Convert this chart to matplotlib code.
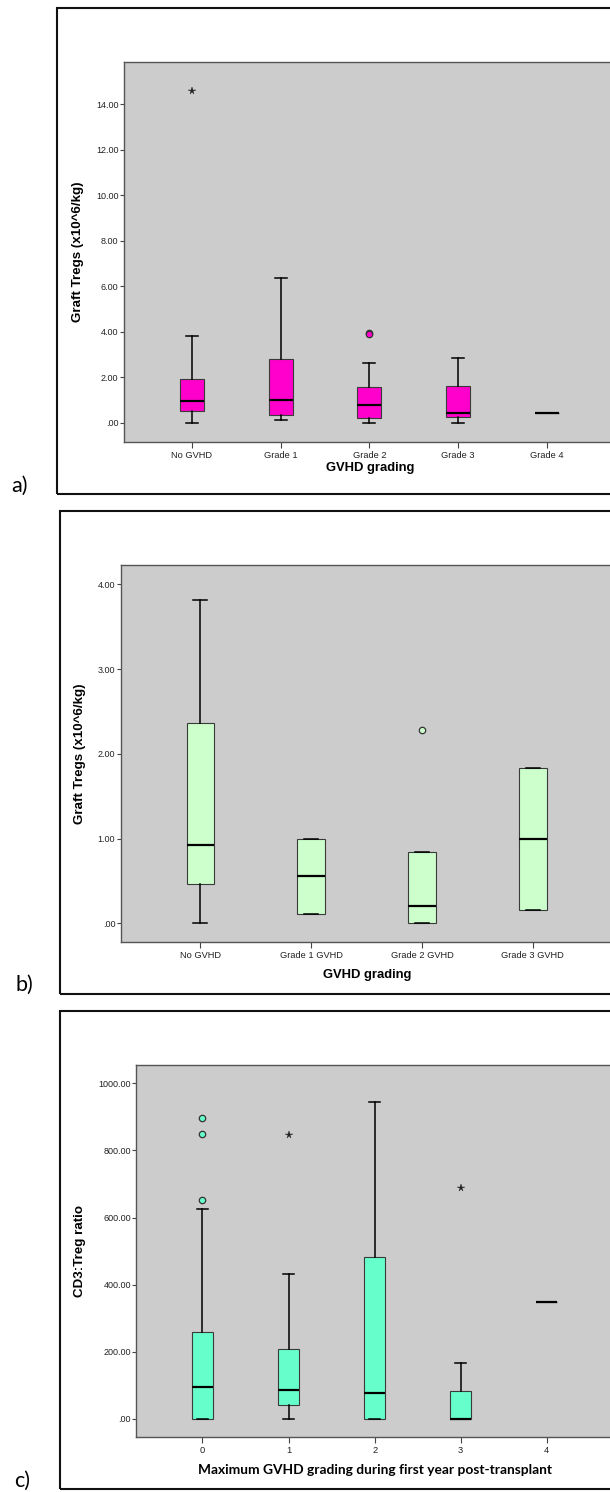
import matplotlib
matplotlib.use("Agg")
import matplotlib.pyplot as plt
from matplotlib.patches import Rectangle

# ---------------- data ----------------
# a) Graft Tregs by GVHD grade
a_labels = ["No GVHD", "Grade 1", "Grade 2", "Grade 3", "Grade 4"]
a_whislo = [0.00, 0.12, 0.00, 0.00, 0.41]
a_q1 = [0.50, 0.34, 0.20, 0.26, 0.41]
a_med = [0.94, 1.00, 0.79, 0.41, 0.41]
a_q3 = [1.93, 2.81, 1.58, 1.61, 0.41]
a_whishi = [3.81, 6.35, 2.61, 2.84, 0.41]
a_outliers = [[], [], [3.96, 3.88], [], []]
a_extremes = [[14.56], [], [], [], []]
a_ticks = [0, 2, 4, 6, 8, 10, 12, 14]
a_ticklabels = [".00", "2.00", "4.00", "6.00", "8.00", "10.00", "12.00", "14.00"]

# b) Graft Tregs by GVHD grade (second cohort)
b_labels = ["No GVHD", "Grade 1 GVHD", "Grade 2 GVHD", "Grade 3 GVHD"]
b_whislo = [0.00, 0.114, 0.00, 0.157]
b_q1 = [0.46, 0.114, 0.00, 0.157]
b_med = [0.924, 0.558, 0.204, 0.995]
b_q3 = [2.368, 0.999, 0.838, 1.837]
b_whishi = [3.815, 0.999, 0.838, 1.837]
b_outliers = [[], [], [2.281], []]
b_extremes = [[], [], [], []]
b_ticks = [0, 1, 2, 3, 4]
b_ticklabels = [".00", "1.00", "2.00", "3.00", "4.00"]

# c) CD3:Treg ratio by maximum GVHD grade
c_labels = ["0", "1", "2", "3", "4"]
c_whislo = [0.0, 0.0, 0.0, 0.0, 347.6]
c_q1 = [0.0, 40.7, 0.0, 0.0, 347.6]
c_med = [96.3, 86.4, 77.5, 0.0, 347.6]
c_q3 = [260.2, 207.5, 483.6, 83.4, 347.6]
c_whishi = [624.6, 433.0, 943.4, 167.8, 347.6]
c_outliers = [[896.7, 850.0, 653.4], [], [], [], []]
c_extremes = [[], [846.0], [], [687.2], []]
c_ticks = [0, 200, 400, 600, 800, 1000]
c_ticklabels = [".00", "200.00", "400.00", "600.00", "800.00", "1000.00"]

# ---------------- layout helpers ----------------
W, H = 610, 1492
fig = plt.figure(figsize=(W / 100, H / 100), dpi=100)
fig.patch.set_facecolor("white")


def px_axes(left, top, right, bottom):
    return fig.add_axes([left / W, 1 - bottom / H, (right - left) / W, (bottom - top) / H])


def frame(left, top, bottom, right=W + 20):
    fig.add_artist(Rectangle((left / W, 1 - bottom / H), (right - left) / W, (bottom - top) / H,
                             transform=fig.transFigure, fill=False, edgecolor="#111111",
                             linewidth=1.5, clip_on=False))


TICK_FONT = "Liberation Sans"
BG = "#cccccc"


def boxpanel(ax, labels, whislo, q1, med, q3, whishi, outliers, extremes, color,
             xlim, ylim, ticks, ticklabels, width=0.26):
    stats = []
    for i in range(len(labels)):
        stats.append(dict(whislo=whislo[i], q1=q1[i], med=med[i], q3=q3[i],
                          whishi=whishi[i], fliers=[]))
    pos = list(range(len(labels)))
    ax.bxp(stats, positions=pos, widths=width, patch_artist=True, showfliers=False,
           boxprops=dict(facecolor=color, edgecolor="#3a3a3a", linewidth=0.8),
           medianprops=dict(color="black", linewidth=1.6, solid_capstyle="butt"),
           whiskerprops=dict(color="black", linewidth=1.1),
           capprops=dict(color="black", linewidth=1.1), capwidths=width * 0.5)
    for i in pos:
        if outliers[i]:
            ax.plot([i] * len(outliers[i]), outliers[i], "o", ms=4.6, mfc=color,
                    mec="#333333", mew=0.9, zorder=5)
        if extremes[i]:
            ax.plot([i] * len(extremes[i]), extremes[i], "*", ms=5.5, color="#222222",
                    mew=0.3, zorder=5)
    ax.set_facecolor(BG)
    ax.set_xlim(*xlim)
    ax.set_ylim(*ylim)
    ax.set_xticks(pos)
    ax.set_xticklabels(labels, fontfamily=TICK_FONT, fontsize=6.7, color="#222222")
    ax.set_yticks(ticks)
    ax.set_yticklabels(ticklabels, fontfamily=TICK_FONT, fontsize=6.5, color="#222222")
    ax.tick_params(axis="y", length=3, width=0.8, color="#444444", pad=0.8)
    ax.tick_params(axis="x", length=4, width=0.8, color="#444444", pad=2.5)
    for s in ax.spines.values():
        s.set_color("#555555")
        s.set_linewidth(1.0)


# ---------------- panel a ----------------
frame(57, 8, 494)
ax_a = px_axes(123.7, 61.7, 615, 442)
boxpanel(ax_a, a_labels, a_whislo, a_q1, a_med, a_q3, a_whishi, a_outliers, a_extremes,
         "#ff00cc", (-0.77, 4.77), (-0.85, 15.86), a_ticks, a_ticklabels, width=0.27)
fig.text(370 / W, 1 - 467.5 / H, "GVHD grading", ha="center", va="center",
         fontfamily=TICK_FONT, fontweight="bold", fontsize=9.4)
fig.text(78 / W, 1 - 252 / H, "Graft Tregs (x10^6/kg)", ha="center", va="center",
         rotation=90, fontfamily=TICK_FONT, fontweight="bold", fontsize=9.6)
fig.text(20 / W, 1 - 486 / H, "a)", ha="center", va="center", fontfamily="Lato", fontsize=15.5)

# ---------------- panel b ----------------
frame(60, 510.7, 994)
ax_b = px_axes(120.6, 565.3, 612.6, 942)
boxpanel(ax_b, b_labels, b_whislo, b_q1, b_med, b_q3, b_whishi, b_outliers, b_extremes,
         "#ccffcc", (-0.72, 3.72), (-0.22, 4.224), b_ticks, b_ticklabels, width=0.25)
fig.text(367 / W, 1 - 975 / H, "GVHD grading", ha="center", va="center",
         fontfamily=TICK_FONT, fontweight="bold", fontsize=9.4)
fig.text(80 / W, 1 - 753.5 / H, "Graft Tregs (x10^6/kg)", ha="center", va="center",
         rotation=90, fontfamily=TICK_FONT, fontweight="bold", fontsize=9.6)
fig.text(24 / W, 1 - 985 / H, "b)", ha="center", va="center", fontfamily="Lato", fontsize=15.5)

# ---------------- panel c ----------------
frame(60, 1010.7, 1489)
ax_c = px_axes(136.2, 1064.7, 613, 1437.3)
boxpanel(ax_c, c_labels, c_whislo, c_q1, c_med, c_q3, c_whishi, c_outliers, c_extremes,
         "#66ffcc", (-0.77, 4.77), (-54.6, 1055.6), c_ticks, c_ticklabels, width=0.25)
fig.text(375 / W, 1 - 1470 / H, "Maximum GVHD grading during first year post-transplant",
         ha="center", va="center", fontfamily="Lato", fontweight="bold", fontsize=9.9)
fig.text(80 / W, 1 - 1251 / H, "CD3:Treg ratio", ha="center", va="center",
         rotation=90, fontfamily=TICK_FONT, fontweight="bold", fontsize=9.6)
fig.text(22 / W, 1 - 1481 / H, "c)", ha="center", va="center", fontfamily="Lato", fontsize=15.5)

fig.savefig("out.png", dpi=100, facecolor="white")
